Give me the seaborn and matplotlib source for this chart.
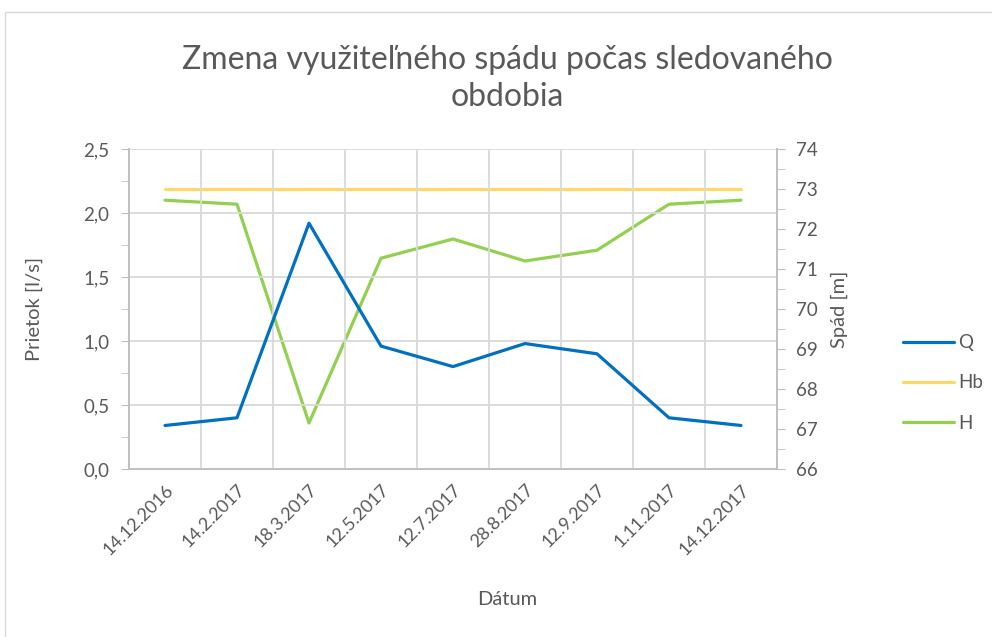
import numpy as np
import pandas as pd
import matplotlib
matplotlib.use('Agg')
import matplotlib.pyplot as plt
import seaborn as sns
from matplotlib.ticker import FuncFormatter, MultipleLocator, FixedLocator
from matplotlib.lines import Line2D
from matplotlib.patches import Rectangle

dates = ['14.12.2016', '14.2.2017', '18.3.2017', '12.5.2017', '12.7.2017',
         '28.8.2017', '12.9.2017', '1.11.2017', '14.12.2017']
q_vals = [0.34, 0.40, 1.92, 0.96, 0.80, 0.98, 0.90, 0.40, 0.34]
hb_vals = [73.0] * 9
h_vals = [72.72, 72.62, 67.15, 71.27, 71.75, 71.20, 71.47, 72.62, 72.72]

c_q = '#0070C0'
c_hb = '#FFD966'
c_h = '#92D050'
txt = '#595959'
axc = '#BFBFBF'

sns.set_style('white')
plt.rcParams['font.family'] = ['Lato', 'DejaVu Sans']

df = pd.DataFrame({'datum': dates, 'Q': q_vals, 'Hb': hb_vals, 'H': h_vals})
df['pos'] = np.arange(len(dates))

fig = plt.figure(figsize=(9.92, 6.37), dpi=100)
ax = fig.add_axes([129 / 992, 1 - 469 / 637, 648 / 992, 320 / 637])
ax2 = ax.twinx()

sns.lineplot(data=df, x='pos', y='Q', ax=ax, color=c_q, lw=2.3, legend=False)
sns.lineplot(data=df, x='pos', y='Hb', ax=ax2, color=c_hb, lw=2.3, legend=False)
sns.lineplot(data=df, x='pos', y='H', ax=ax2, color=c_h, lw=2.3, legend=False)
ax.set_zorder(ax2.get_zorder() + 1)
ax.patch.set_visible(False)

n = len(dates)
ax.set_xlim(-0.5, n - 0.5)
ax.set_ylim(0, 2.5)
ax2.set_ylim(66, 74)

# x: boundaries as major ticks (grid), centers carry the labels
ax.xaxis.set_major_locator(FixedLocator(np.arange(-0.5, n, 1.0)))
ax.xaxis.set_minor_locator(FixedLocator(np.arange(n)))
ax.set_xticklabels([''] * (n + 1))
ax.set_xticklabels(dates, minor=True, rotation=45, ha='right',
                   rotation_mode='anchor', color=txt, fontsize=13)
ax.tick_params(axis='x', which='major', length=6, color=axc, direction='out')
ax.tick_params(axis='x', which='minor', length=0, pad=9)

ax.yaxis.set_major_locator(MultipleLocator(0.5))
ax.yaxis.set_minor_locator(MultipleLocator(0.25))
ax.yaxis.set_major_formatter(FuncFormatter(lambda v, p: f'{v:.1f}'.replace('.', ',')))
ax.tick_params(axis='y', which='both', length=6, color=axc, labelcolor=txt,
               labelsize=13.5, direction='out', pad=8)

ax2.yaxis.set_major_locator(MultipleLocator(1))
ax2.yaxis.set_minor_locator(MultipleLocator(0.5))
ax2.tick_params(axis='y', which='both', length=6, color=axc, labelcolor=txt,
                labelsize=13.5, direction='out', pad=8)
ax2.set_xlim(-0.5, n - 0.5)

ax.grid(True, which='major', color='#D9D9D9', lw=1.3)
ax2.grid(False)

for a in (ax, ax2):
    a.spines['top'].set_visible(False)
    for s in ('left', 'right', 'bottom'):
        a.spines[s].set_color(axc)
        a.spines[s].set_linewidth(1.3)

ax.set_xlabel('Dátum', color=txt, fontsize=14.5)
ax.xaxis.set_label_coords(0.583, -0.38)
ax.set_ylabel('Prietok [l/s]', color=txt, fontsize=14.5)
ax.yaxis.set_label_coords(-0.133, 0.5)
ax2.set_ylabel('Spád [m]', color=txt, fontsize=14.5)
ax2.yaxis.set_label_coords(1.083, 0.5)

fig.text(507 / 992, 1 - 60 / 637, 'Zmena využiteľného spádu počas sledovaného',
         ha='center', va='center', color=txt, fontsize=23)
fig.text(507 / 992, 1 - 97 / 637, 'obdobia',
         ha='center', va='center', color=txt, fontsize=23)

handles = [Line2D([], [], color=c_q, lw=2.3),
           Line2D([], [], color=c_hb, lw=2.3),
           Line2D([], [], color=c_h, lw=2.3)]
leg = fig.legend(handles, ['Q', 'Hb', 'H'], loc='center left',
                 bbox_to_anchor=(886 / 992, 1 - 383 / 637), frameon=False,
                 fontsize=13.5, labelspacing=1.25, handlelength=2.7,
                 handletextpad=0.25, labelcolor=txt)

fig.patches.append(Rectangle((5 / 992, -0.1), 1.1, 1.1 - 12 / 637,
                             transform=fig.transFigure, fill=False,
                             edgecolor='#D9D9D9', lw=1.0))

fig.savefig('out.png', dpi=100)
